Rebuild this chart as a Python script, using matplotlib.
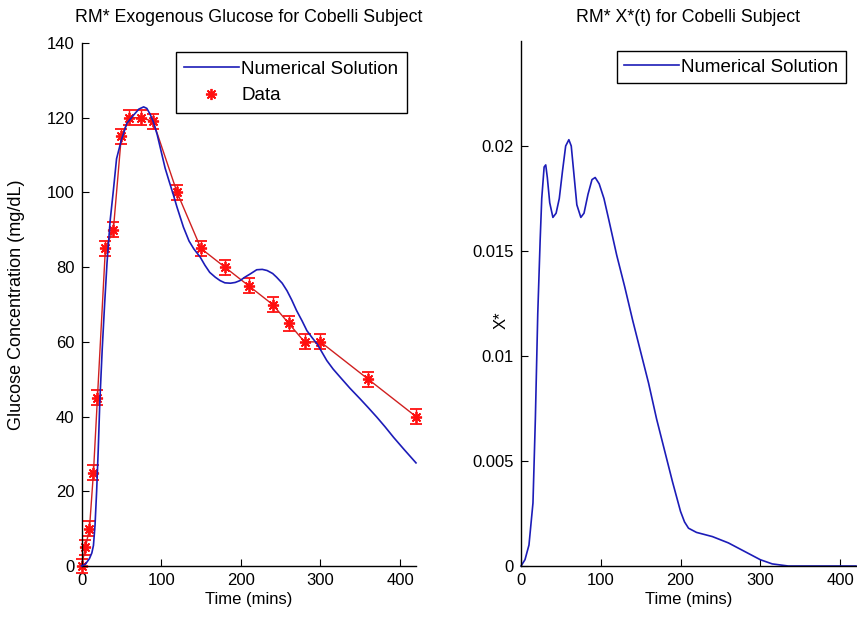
import matplotlib
matplotlib.use("Agg")
import matplotlib.pyplot as plt
from matplotlib.lines import Line2D

plt.rcParams['font.family'] = ['Liberation Sans', 'DejaVu Sans']

# ---- data: glucose (left) ----
data_t = [0, 5, 10, 15, 20, 30, 40, 50, 60, 75, 90, 120, 150, 180, 210, 240, 260, 280, 300, 360, 420]
data_g = [0, 5, 10, 25, 45, 85, 90, 115, 120, 120, 119, 100, 85, 80, 75, 70, 65, 60, 60, 50, 40]
data_err = [2] * len(data_t)

sim_t = [0, 5, 10, 13, 15, 17, 19, 21, 23, 26, 29, 32, 36, 40, 44, 50, 57, 65, 72, 78, 82, 86,
         90, 95, 100, 105, 110, 115, 120, 128, 135, 141, 149, 155, 161, 168, 174, 180, 187, 193,
         199, 205, 212, 220, 227, 233, 240, 245, 252, 258, 264, 270, 277, 283, 290, 296, 302,
         308, 316, 325, 337, 350, 360, 371, 381, 392, 405, 420]
sim_g = [0, 0.5, 2, 3.5, 5.5, 11, 20, 31, 44, 58, 70, 81, 92.5, 100.5, 109, 114, 118.5, 120.6,
         122.3, 122.9, 122.5, 121, 119, 115.5, 111, 106.5, 103, 99.6, 96, 90.7, 87, 84.9, 82.7,
         80.5, 78.6, 77.3, 76.4, 75.8, 75.7, 75.9, 76.4, 77.3, 78.2, 79.3, 79.4, 79.1, 78.3, 77.3,
         75.7, 73.7, 71.2, 68.4, 65.6, 63, 61, 59.4, 57.2, 55, 52.7, 50.5, 47.6, 44.7, 42.4, 39.8,
         37.3, 34.4, 31.2, 27.6]

# ---- data: X*(t) (right) ----
x_t = [0, 5, 10, 15, 18, 21, 24, 26, 29, 31, 33, 36, 40, 44, 48, 52, 56, 60, 63, 66, 70, 75,
       79, 84, 89, 93, 98, 104, 110, 120, 130, 140, 150, 160, 170, 180, 190, 200, 205, 210, 220,
       240, 260, 275, 290, 300, 315, 335, 420]
x_v = [0, 0.0003, 0.001, 0.003, 0.007, 0.012, 0.0155, 0.0175, 0.019, 0.0191, 0.0185, 0.0173,
       0.0166, 0.0168, 0.0175, 0.0188, 0.0200, 0.0203, 0.0200, 0.0188, 0.0172, 0.0166, 0.0168,
       0.0177, 0.0184, 0.0185, 0.0182, 0.0175, 0.0165, 0.0148, 0.0133, 0.0117, 0.0102, 0.0087,
       0.0070, 0.0055, 0.0040, 0.0026, 0.0021, 0.0018, 0.0016, 0.0014, 0.0011, 0.0008, 0.0005,
       0.0003, 0.0001, 0.0, 0.0]

left_yticks = [0, 20, 40, 60, 80, 100, 120, 140]
xticks = [0, 100, 200, 300, 400]
right_yticks = [0, 0.005, 0.01, 0.015, 0.02]
right_yticklabels = ['0', '0.005', '0.01', '0.015', '0.02']

BLUE = '#1c1cb8'
RED = '#ff1010'
FS = 12
LFS = 13.5

fig = plt.figure(figsize=(8.57, 6.21), dpi=100)
H1 = 523.0
H2 = 525.0
ax1 = fig.add_axes([81.5 / 857, 55 / 621, 334.5 / 857, H1 / 621])
ax2 = fig.add_axes([521 / 857, 55 / 621, 335 / 857, H2 / 621])

asterisk = (8, 2, 0)

ax1.plot(sim_t, sim_g, color=BLUE, lw=1.2, clip_on=False, zorder=3)
ax1.errorbar(data_t, data_g, yerr=data_err, color='#d02020', lw=1.0, ecolor=RED,
             elinewidth=1.0, capsize=4, capthick=1.0, marker=asterisk, markersize=8,
             markeredgecolor=RED, markeredgewidth=1.3, clip_on=False, zorder=2)
ax1.set_xlim(0, 420)
ax1.set_ylim(0, 140)
ax1.set_xticks(xticks)
ax1.set_yticks(left_yticks)
ax1.set_xlabel('Time (mins)', fontsize=FS)
ax1.xaxis.set_label_coords(0.5, -(592 - 566) / H1)
ax1.set_ylabel('Glucose Concentration (mg/dL)', fontsize=13)
ax1.yaxis.set_label_coords(-(81.5 - 25) / 334.5, 0.5)
ax1.text(0.5, 1 + 25 / H1, 'RM* Exogenous Glucose for Cobelli Subject',
         transform=ax1.transAxes, ha='center', va='center', fontsize=12.8)
h1 = [Line2D([], [], color=BLUE, lw=1.2),
      Line2D([], [], color=RED, ls='none', marker=asterisk, markersize=8, markeredgewidth=1.3)]
ax1.legend(h1, ['Numerical Solution', 'Data'], loc='upper right',
           bbox_to_anchor=(1 - 9 / 334.5, 1 - 9 / H1), fontsize=LFS, frameon=True,
           fancybox=False, edgecolor='black', framealpha=1, borderaxespad=0,
           handlelength=2.9, handletextpad=0.15, borderpad=0.45, labelspacing=0.5)

ax2.plot(x_t, x_v, color=BLUE, lw=1.2, clip_on=False)
ax2.set_xlim(0, 420)
ax2.set_ylim(0, 0.025)
ax2.set_xticks(xticks)
ax2.set_yticks(right_yticks)
ax2.set_yticklabels(right_yticklabels)
ax2.set_xlabel('Time (mins)', fontsize=FS)
ax2.xaxis.set_label_coords(0.5, -(592 - 566) / H2)
ax2.set_ylabel('X*', fontsize=FS)
ax2.yaxis.set_label_coords(-(521 - 509) / 335, (566 - 320) / H2)
ax2.text(0.5, 1 + 23 / H2, 'RM* X*(t) for Cobelli Subject', transform=ax2.transAxes,
         ha='center', va='center', fontsize=12.8)
h2 = [Line2D([], [], color=BLUE, lw=1.2)]
ax2.legend(h2, ['Numerical Solution'], loc='upper right',
           bbox_to_anchor=(1 - 10 / 335, 1 - 10 / H2), fontsize=LFS, frameon=True,
           fancybox=False, edgecolor='black', framealpha=1, borderaxespad=0,
           handlelength=2.9, handletextpad=0.15, borderpad=0.4)

for ax in (ax1, ax2):
    ax.spines['top'].set_visible(False)
    ax.spines['right'].set_visible(False)
    ax.tick_params(direction='in', length=5, labelsize=FS, pad=5)
    for s in ('left', 'bottom'):
        ax.spines[s].set_linewidth(1.0)

fig.savefig('out.png', dpi=100)
